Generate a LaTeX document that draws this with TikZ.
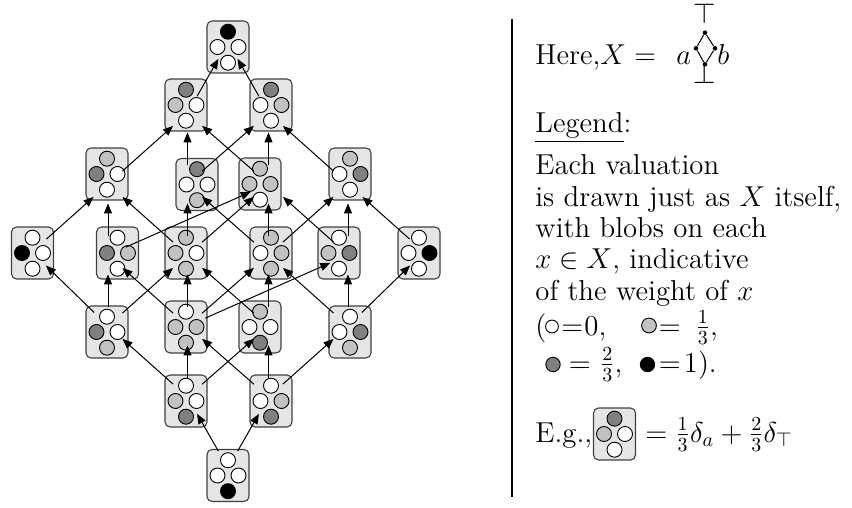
\documentclass[tikz,border=0pt]{standalone}
\usetikzlibrary{arrows.meta}
\definecolor{v0}{gray}{1}
\definecolor{v1}{gray}{0.76}
\definecolor{v2}{gray}{0.5}
\definecolor{v3}{gray}{0}
\definecolor{boxfill}{gray}{0.9}
\definecolor{boxline}{gray}{0.25}
\tikzset{
  vbx/.style={draw=boxline, fill=boxfill, rounded corners=2.5pt, minimum width=21pt, minimum height=26pt, inner sep=0pt, line width=0.55pt},
  blob/.style={draw=black, line width=0.45pt},
  hub/.style={circle, minimum size=19pt, inner sep=0pt},
  arr/.style={-{Triangle[length=5pt,width=4pt]}, line width=0.5pt},
  txt/.style={anchor=base west, inner sep=0pt, font=\Large},
  sym/.style={anchor=base, inner sep=0pt, font=\Large},
  pdot/.style={circle, fill=black, inner sep=0pt, minimum size=2.3pt},
}
\newcommand{\valnode}[7]{%
  \node[vbx] (#1) at (#2,#3) {};
  \filldraw[blob,fill=v#4] (#2,#3) ++(0,-15.3) circle[radius=3.75pt];
  \filldraw[blob,fill=v#5] (#2,#3) ++(-10.5,0) circle[radius=3.75pt];
  \filldraw[blob,fill=v#6] (#2,#3) ++(10.5,0) circle[radius=3.75pt];
  \filldraw[blob,fill=v#7] (#2,#3) ++(0,15.7) circle[radius=3.75pt];
}
\newcommand{\hubat}[3]{\node[hub] (#1) at (#2,#3) {};}
\begin{document}
\begin{tikzpicture}[x=0.5pt,y=-0.5pt]
\useasboundingbox (0,0) rectangle (852,508);
% valuation boxes
\valnode{nT}{228}{47}{3}{0}{0}{0}
\valnode{n1L}{186}{105}{2}{1}{0}{0}
\valnode{n1R}{271}{105}{2}{0}{1}{0}
\valnode{n2a}{107}{174}{1}{2}{0}{0}
\valnode{n2b}{197}{184.5}{2}{0}{0}{1}
\valnode{n2c}{260}{184}{1}{1}{1}{0}
\valnode{n2d}{350}{174}{1}{0}{2}{0}
\valnode{n3a}{32.5}{253}{0}{3}{0}{0}
\valnode{n3b}{117.5}{253}{0}{2}{1}{0}
\valnode{n3c}{186}{253}{1}{1}{0}{1}
\valnode{n3d}{271}{253}{1}{0}{1}{1}
\valnode{n3e}{339}{253}{0}{1}{2}{0}
\valnode{n3f}{419}{253}{0}{0}{3}{0}
\valnode{n4a}{107}{332}{0}{2}{0}{1}
\valnode{n4b}{186}{327}{0}{1}{1}{1}
\valnode{n4c}{260}{327}{1}{0}{0}{2}
\valnode{n4d}{350}{332}{0}{0}{2}{1}
\valnode{n5a}{186}{401}{0}{1}{0}{2}
\valnode{n5b}{271}{401}{0}{0}{1}{2}
\valnode{nB}{228}{475.5}{0}{0}{0}{3}
% graph hubs for the connectors
\hubat{hT}{228}{42}
\hubat{h1L}{187.5}{113}
\hubat{h1R}{268.5}{113}
\hubat{h2a}{108}{184}
\hubat{h2b}{187.5}{184}
\hubat{h2c}{268.5}{184}
\hubat{h2d}{348}{184}
\hubat{h3a}{32}{252}
\hubat{h3b}{108}{255}
\hubat{h3c}{187.5}{255}
\hubat{h3d}{268.5}{255}
\hubat{h3e}{348}{255}
\hubat{h3f}{424}{252}
\hubat{h4a}{108}{326}
\hubat{h4b}{187.5}{326}
\hubat{h4c}{268.5}{326}
\hubat{h4d}{348}{326}
\hubat{h5a}{187.5}{397}
\hubat{h5b}{268.5}{397}
\hubat{hB}{228}{468}
% connectors
\foreach \s/\t in {B/5a, B/5b,
  5a/4a, 5a/4b, 5a/4c, 5b/4b, 5b/4d, 5b/4c,
  4a/3a, 4a/3b, 4a/3c, 4b/3b, 4b/3e, 4b/3d, 4b/3c, 4c/3c, 4c/3d, 4d/3e, 4d/3f, 4d/3d,
  3a/2a, 3b/2c, 3b/2a, 3c/2a, 3c/2c, 3c/2b, 3d/2c, 3d/2d, 3d/2b, 3e/2d, 3e/2c, 3f/2d,
  2a/1L, 2b/1L, 2b/1R, 2c/1R, 2c/1L, 2d/1R,
  1L/T, 1R/T}
  \draw[arr] (h\s) -- (h\t);
% separator
\draw[line width=0.6pt] (512,19) -- (512,497);
% right panel
\node[txt] (here) at (535,65) {Here,$X =$};
\node[pdot] (dT) at (705,32.7) {};
\node[pdot] (dA) at (696,48.3) {};
\node[pdot] (dB) at (715,48.3) {};
\node[pdot] (dBot) at (705,64.3) {};
\draw[line width=0.5pt] (dT) -- (dA) -- (dBot) -- (dB) -- (dT);
\node[sym] (lT) at (705,24) {$\top$};
\node[sym] (lBot) at (705,83.5) {$\bot$};
\node[txt] (la) at (676,65) {$a$};
\node[txt] (lb) at (717,65) {$b$};
\node[txt] (leg) at (535,133) {\underline{Legend}:};
\node[txt] (l1) at (535,175) {Each valuation};
\node[txt] (l2) at (535,206) {is drawn just as $X$ itself,};
\node[txt] (l3) at (535,237) {with blobs on each};
\node[txt] (l4) at (535,268) {$x \in X$, indicative};
\node[txt] (l5) at (535,300) {of the weight of $x$};
% legend line A
\node[txt] (pa) at (535,335) {(};
\filldraw[blob,fill=v0] (552,326.5) circle[radius=3.2pt];
\node[txt] (ea1) at (561,335) {$=$};
\node[txt] (za) at (584,335) {0,};
\filldraw[blob,fill=v1] (649,325.5) circle[radius=3.7pt];
\node[txt] (ea2) at (658.5,335) {$=$};
\node[txt] (fa) at (695,335) {$\frac13$,};
% legend line B
\filldraw[blob,fill=v2] (553,364.5) circle[radius=3.6pt];
\node[txt] (eb1) at (568.5,372) {$=$};
\node[txt] (fb) at (599.5,372) {$\frac23$,};
\filldraw[blob,fill=v3] (647.5,364.5) circle[radius=3.6pt];
\node[txt] (eb2) at (658.5,372) {$=$};
\node[txt] (ob) at (683.5,372) {1).};
% example
\node[txt] (eg) at (535,442) {E.g.,};
\valnode{nEg}{614.5}{434}{2}{1}{0}{0}
\node[txt] (egr) at (645,442) {$=\frac13\delta_a+\frac23\delta_\top$};
\end{tikzpicture}
\end{document}
